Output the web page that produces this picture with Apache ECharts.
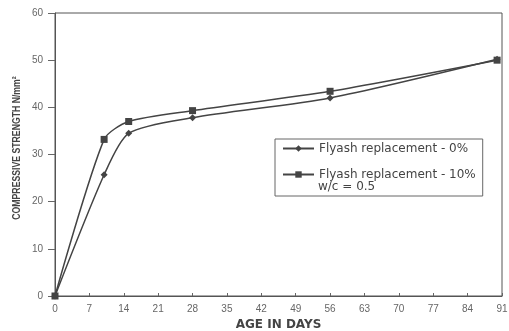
<!DOCTYPE html>
<html><head><meta charset="utf-8">
<script src="https://cdn.jsdelivr.net/npm/echarts@6/dist/echarts.min.js"></script>
<style>html,body{margin:0;padding:0;background:#fff}#c{width:509px;height:331px}</style>
</head><body><div id="c"></div>
<script>
var days = [0, 10, 15, 28, 56, 90];
var fly0 = [0, 25.7, 34.5, 37.8, 42.0, 50.2];
var fly10 = [0, 33.2, 37.0, 39.3, 43.4, 50.0];
var xTicks = [0, 7, 14, 21, 28, 35, 42, 49, 56, 63, 70, 77, 84, 91];
var yTicks = [0, 10, 20, 30, 40, 50, 60];
var name0 = 'Flyash replacement - 0%';
var name10 = 'Flyash replacement - 10%';
var note10 = 'w/c = 0.5';
var yTitle = 'COMPRESSIVE STRENGTH N/mm²';
var xTitle = 'AGE IN DAYS';

function pairs(xs, ys){ return xs.map(function(x,i){return [x, ys[i]];}); }

var chart = echarts.init(document.getElementById('c'));
var ff = '"Liberation Sans", Arial, sans-serif';
var lf = '"DejaVu Sans", sans-serif';
chart.setOption({
  animation: false,
  textStyle: {fontFamily: ff},
  grid: {left: 55, right: 7, top: 13, bottom: 35, show: true, borderColor: '#555', borderWidth: 1,
         containLabel: false, outerBoundsMode: 'none'},
  legend: {
    left: 275, top: 139, orient: 'vertical', itemGap: 13,
    borderColor: '#666', borderWidth: 1, padding: [3, 7, 15, 7],
    itemWidth: 31, itemHeight: 8,
    textStyle: {fontSize: 12, color: '#444', fontFamily: lf, lineHeight: 13},
    data: [name0, name10]
  },
  graphic: [{
    type: 'text', left: 318, top: 181,
    style: {text: note10, fontSize: 12, fontFamily: lf, fill: '#444'}
  }, {
    type: 'text', x: 17, y: 148, rotation: Math.PI / 2, scaleX: 0.79,
    style: {text: yTitle, fontSize: 11, fontWeight: 'bold', fontFamily: ff, fill: '#444',
            align: 'center', verticalAlign: 'middle'}
  }],
  xAxis: {
    type: 'value', min: 0, max: 91, interval: 7,
    name: xTitle, nameLocation: 'middle', nameGap: 21,
    nameTextStyle: {fontSize: 12, fontWeight: 'bold', color: '#444', fontFamily: lf},
    axisLine: {lineStyle: {color: '#555'}},
    axisTick: {inside: true, length: 3, lineStyle: {color: '#666'}},
    axisLabel: {fontSize: 10, color: '#666', customValues: xTicks, margin: 8},
    splitLine: {show: false}
  },
  yAxis: {
    type: 'value', min: 0, max: 60, interval: 10,
    axisLine: {show: true, lineStyle: {color: '#555'}},
    axisTick: {show: true, length: 7, lineStyle: {color: '#666'}},
    axisLabel: {fontSize: 10, color: '#666', margin: 12},
    splitLine: {show: false}
  },
  series: [
    {name: name0, type: 'line', data: pairs(days, fly0), smooth: 0.25,
     symbol: 'diamond', symbolSize: 7,
     lineStyle: {color: '#444', width: 1.5}, itemStyle: {color: '#444'}},
    {name: name10, type: 'line', data: pairs(days, fly10), smooth: 0.25,
     symbol: 'rect', symbolSize: 7,
     lineStyle: {color: '#444', width: 1.5}, itemStyle: {color: '#444'}}
  ]
});
</script></body></html>
